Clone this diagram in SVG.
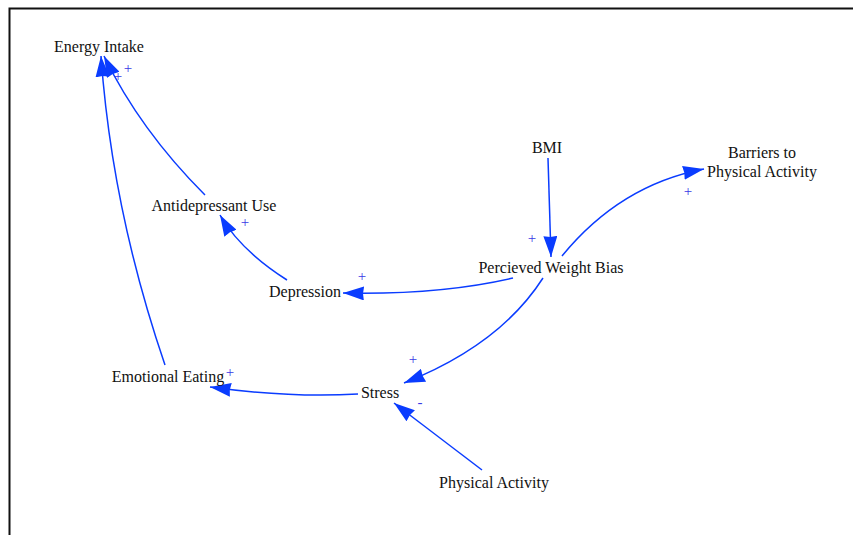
<svg xmlns="http://www.w3.org/2000/svg" width="853" height="535" viewBox="0 0 853 535">
<style>
.lbl{font-family:"Liberation Serif","Times New Roman",serif;font-size:16px;fill:#111;text-anchor:middle}
.pol{font-family:"Liberation Serif","Times New Roman",serif;font-size:15px;fill:#3a3ae6;text-anchor:middle}
.lnk{fill:none;stroke:#0a3cff;stroke-width:1.5;marker-end:url(#ah)}
</style>
<defs>
<marker id="ah" markerUnits="userSpaceOnUse" markerWidth="22" markerHeight="14" refX="21" refY="7" orient="auto" viewBox="0 0 22 14">
<path d="M0,0 L21,7 L0,14 L1,7 z" fill="#0a3cff"/>
</marker>
</defs>
<rect width="853" height="535" fill="#fff"/>
<path d="M9.5,535 L9.5,8.5 L853,8.5" fill="none" stroke="#111" stroke-width="2"/>
<g id="connectors">
<path class="lnk" d="M165,365 Q112,210 101,56"/>
<path class="lnk" d="M205,195 Q140,130 104,56"/>
<path class="lnk" d="M287,280 Q240,250 220,215"/>
<path class="lnk" d="M513,278 Q440,295 343,293"/>
<path class="lnk" d="M543,278 Q500,345 404,383"/>
<path class="lnk" d="M548,158 L551,257"/>
<path class="lnk" d="M562,256 Q620,185 704,169"/>
<path class="lnk" d="M358,394 Q290,398 210,387"/>
<path class="lnk" d="M482,470 L394,403"/>
<text class="pol" x="128" y="73">+</text>
<text class="pol" x="118" y="81">+</text>
<text class="pol" x="245" y="227">+</text>
<text class="pol" x="362" y="281">+</text>
<text class="pol" x="413" y="364">+</text>
<text class="pol" x="532" y="243">+</text>
<text class="pol" x="688" y="196">+</text>
<text class="pol" x="230" y="377">+</text>
<text class="pol" x="420" y="407">-</text>
</g>
<g id="energy-intake"><text class="lbl" x="99" y="52">Energy Intake</text></g>
<g id="antidepressant-use"><text class="lbl" x="214" y="211">Antidepressant Use</text></g>
<g id="bmi"><text class="lbl" x="547" y="153">BMI</text></g>
<g id="barriers"><text class="lbl" x="762" y="158">Barriers to</text><text class="lbl" x="762" y="177">Physical Activity</text></g>
<g id="perceived-weight-bias"><text class="lbl" x="551" y="273">Percieved Weight Bias</text></g>
<g id="depression"><text class="lbl" x="305" y="297">Depression</text></g>
<g id="stress"><text class="lbl" x="380" y="398">Stress</text></g>
<g id="emotional-eating"><text class="lbl" x="168" y="382">Emotional Eating</text></g>
<g id="physical-activity"><text class="lbl" x="494" y="488">Physical Activity</text></g>
</svg>
